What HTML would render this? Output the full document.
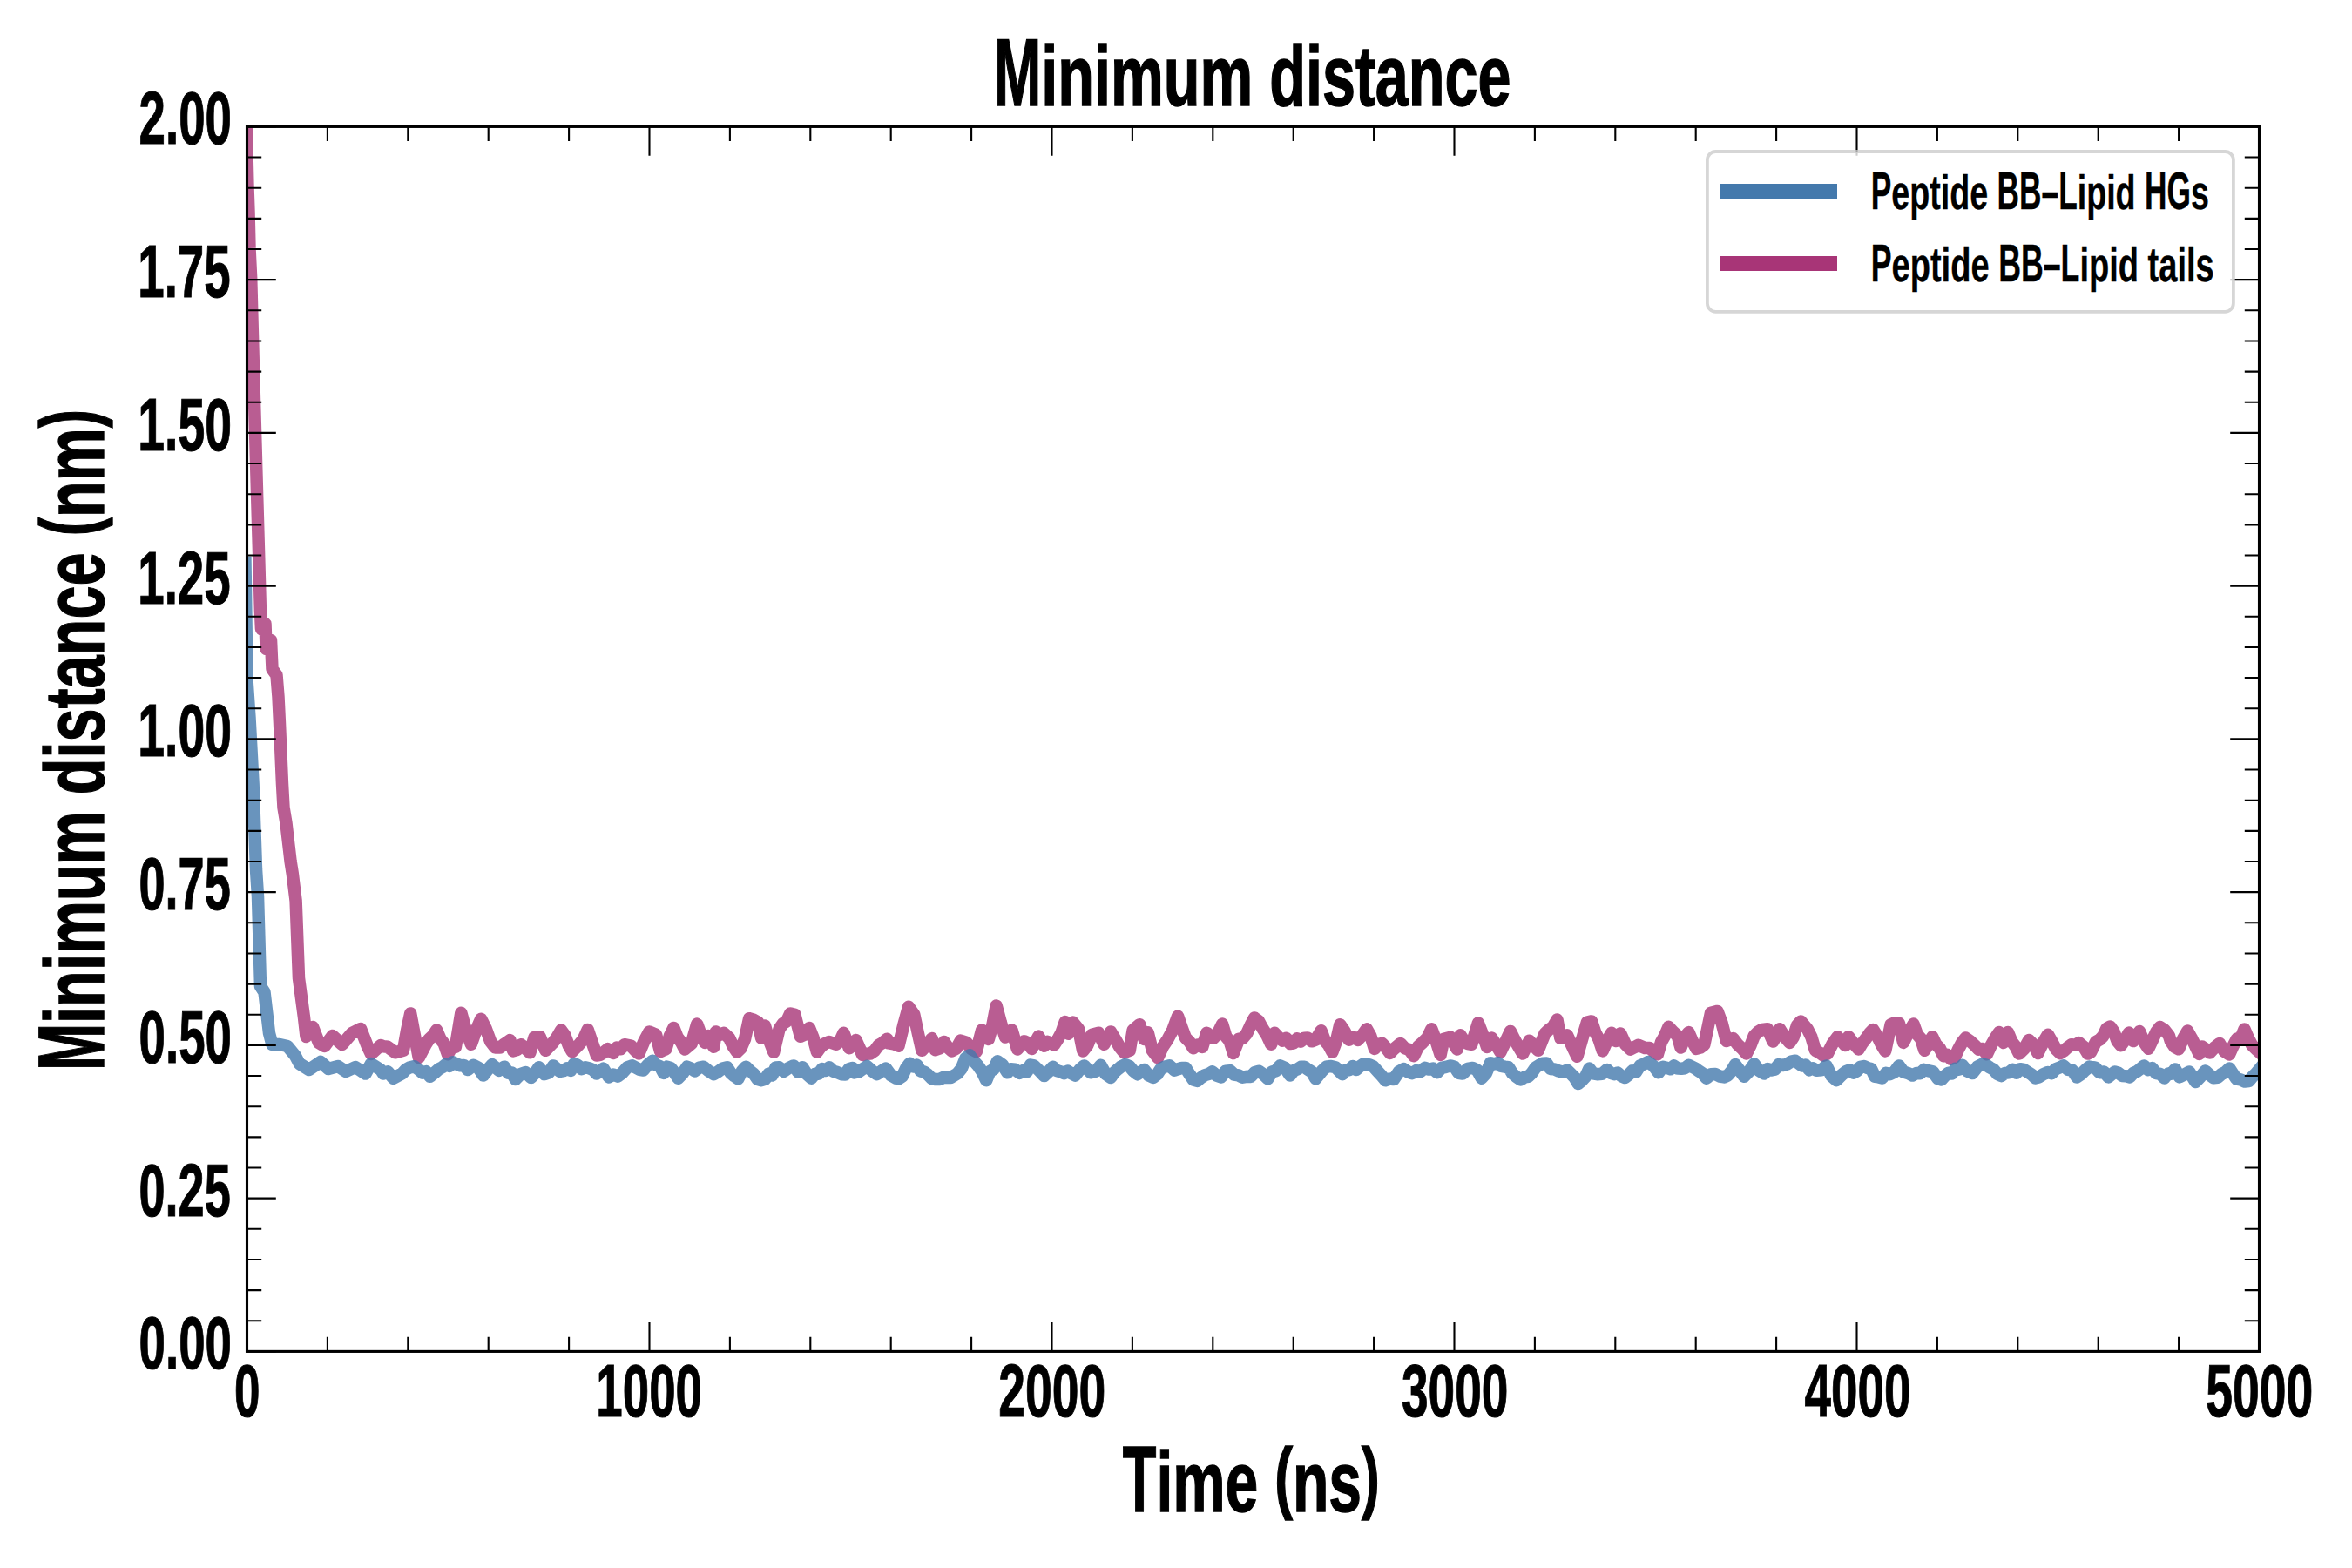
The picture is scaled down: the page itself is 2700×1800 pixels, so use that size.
<!DOCTYPE html>
<html><head><meta charset="utf-8"><style>
html,body{margin:0;padding:0;background:#fff;}
svg{display:block;}
text{font-family:"Liberation Sans",sans-serif;font-weight:bold;fill:#000;}
</style></head><body>
<svg width="2700" height="1800" viewBox="0 0 2700 1800">
<rect x="0" y="0" width="2700" height="1800" fill="#fff"/>
<defs><clipPath id="ax"><rect x="283.5" y="145.4" width="2310.0" height="1406.0"/></clipPath></defs>

<g clip-path="url(#ax)" fill="none" stroke-width="14.5" stroke-linejoin="round" stroke-linecap="square">
<polyline points="282.8,146.0 284.5,215.0 285.5,243.0 286.5,285.0 288.2,320.0 291.4,438.0 295.2,571.0 297.2,640.0 298.9,700.0 300.0,722.0 304.5,716.0 305.5,745.0 311.0,735.0 312.5,768.0 317.5,775.0 319.5,800.0 321.0,831.0 324.0,900.0 325.5,927.0 328.5,945.0 333.6,989.0 335.8,1003.0 339.6,1034.0 343.0,1123.0 349.0,1168.0 351.5,1190.0 359.0,1179.0 366.0,1197.0 372.7,1201.0 381.6,1189.0 392.8,1199.0 404.0,1186.0 414.0,1181.0 421.8,1201.0 426.0,1210.0 437.0,1200.0 440.0,1201.2 445.1,1201.8 454.0,1208.3 463.0,1205.8 467.1,1182.8 471.2,1163.4 476.0,1189.1 480.8,1214.1 488.5,1199.3 492.7,1192.8 497.0,1188.9 501.2,1182.6 505.5,1192.7 509.7,1198.0 514.0,1210.3 518.4,1202.6 522.9,1201.8 529.3,1162.8 535.0,1183.2 540.8,1198.8 546.5,1182.6 552.2,1169.8 557.7,1180.8 563.1,1195.6 568.5,1202.6 573.9,1202.6 579.7,1198.1 585.4,1194.1 589.2,1206.4 593.7,1205.1 598.2,1199.2 603.3,1203.6 608.4,1208.3 613.5,1190.9 619.8,1190.2 626.2,1205.8 633.9,1198.0 639.0,1191.3 644.1,1182.6 648.3,1188.3 652.6,1199.8 656.8,1207.1 664.5,1199.3 669.6,1193.2 674.7,1181.9 679.8,1196.9 684.9,1211.5 689.1,1210.8 693.4,1207.9 697.7,1204.3 704.0,1209.0 708.3,1202.7 712.5,1204.2 716.8,1199.2 724.4,1200.6 728.9,1205.7 733.4,1209.6 739.3,1195.7 745.3,1184.5 753.0,1187.7 758.1,1207.1 764.4,1204.4 768.9,1188.9 773.4,1180.0 777.6,1190.7 781.9,1196.2 786.1,1204.5 793.8,1198.0 800.2,1175.6 804.6,1187.7 809.1,1196.9 812.9,1189.1 819.3,1201.8 821.8,1184.5 826.3,1187.8 830.8,1185.8 837.1,1191.6 841.6,1201.2 846.1,1207.7 850.5,1203.3 855.0,1192.9 860.1,1169.2 865.2,1170.7 870.3,1173.6 874.1,1191.8 878.0,1177.5 883.1,1194.7 888.2,1207.7 894.5,1181.4 898.8,1175.0 903.0,1172.5 907.3,1163.4 912.4,1164.8 918.8,1189.8 923.9,1187.6 929.0,1180.0 933.4,1191.0 937.9,1207.7 942.6,1201.2 947.3,1197.9 951.9,1196.0 959.6,1198.8 964.1,1195.5 968.5,1185.8 974.9,1203.2 982.6,1194.1 990.2,1210.9 994.7,1209.7 999.1,1209.5 1003.9,1206.2 1008.7,1199.7 1013.5,1197.0 1018.3,1192.8 1020.0,1197.4 1025.7,1198.2 1031.5,1200.7 1037.2,1177.2 1043.0,1155.8 1049.3,1164.7 1053.8,1185.9 1058.3,1205.8 1064.0,1199.6 1069.7,1192.1 1073.6,1205.2 1078.7,1203.4 1083.8,1196.0 1088.2,1202.5 1092.7,1206.4 1097.8,1203.6 1102.9,1194.7 1109.3,1196.6 1115.0,1204.3 1120.8,1207.1 1127.1,1182.6 1134.8,1193.0 1139.3,1177.2 1143.7,1154.5 1148.8,1173.7 1153.9,1190.5 1161.6,1182.6 1168.0,1204.5 1175.6,1195.3 1180.1,1197.2 1184.5,1203.9 1192.2,1189.6 1198.6,1200.7 1202.4,1196.0 1210.1,1199.4 1214.3,1193.1 1218.6,1185.1 1222.8,1173.0 1226.6,1186.7 1231.7,1173.6 1238.1,1181.4 1243.2,1206.4 1248.3,1199.9 1253.4,1187.7 1261.1,1185.8 1267.4,1198.8 1275.1,1184.5 1280.2,1192.9 1285.3,1201.9 1290.4,1208.3 1296.8,1205.8 1300.6,1182.6 1308.3,1176.2 1313.4,1192.9 1317.7,1185.3 1322.8,1205.8 1329.1,1214.1 1334.9,1201.5 1340.6,1192.9 1346.4,1182.1 1352.1,1166.6 1356.6,1179.6 1361.0,1191.6 1365.5,1195.9 1369.9,1203.2 1375.1,1199.5 1380.2,1202.0 1385.3,1185.8 1392.9,1191.8 1398.0,1186.1 1403.1,1175.6 1407.4,1190.1 1411.6,1195.0 1415.9,1209.0 1422.2,1192.9 1426.7,1191.8 1431.2,1186.5 1435.6,1176.9 1440.1,1168.5 1444.6,1171.8 1449.0,1180.0 1454.1,1188.0 1459.2,1198.8 1463.1,1185.8 1467.5,1190.7 1472.0,1194.5 1476.5,1191.8 1480.9,1198.0 1485.0,1197.5 1489.1,1192.3 1493.2,1195.7 1497.2,1191.7 1501.3,1191.6 1505.8,1195.3 1510.3,1193.7 1516.6,1183.2 1520.9,1194.7 1525.1,1199.6 1529.4,1207.7 1533.9,1195.4 1538.3,1176.2 1543.4,1183.6 1548.5,1193.7 1553.6,1190.7 1558.7,1193.7 1563.8,1188.2 1568.9,1181.3 1573.4,1189.3 1577.9,1203.9 1582.3,1198.8 1586.8,1198.0 1591.2,1202.9 1595.7,1209.0 1600.0,1204.4 1607.7,1197.9 1612.8,1203.4 1617.9,1205.0 1623.0,1212.2 1628.1,1201.2 1633.2,1196.7 1638.3,1191.6 1643.4,1181.3 1648.5,1194.8 1653.6,1210.9 1657.4,1192.8 1665.1,1190.9 1672.7,1204.5 1676.5,1188.3 1680.8,1195.0 1685.0,1198.1 1689.3,1198.8 1696.9,1174.3 1702.0,1187.3 1707.1,1202.0 1712.2,1191.5 1717.3,1199.3 1722.4,1207.7 1728.2,1195.9 1733.9,1183.9 1738.6,1193.4 1743.3,1201.7 1748.0,1209.6 1755.6,1194.7 1760.7,1200.7 1765.8,1205.8 1773.5,1186.5 1778.1,1182.0 1782.8,1178.9 1787.5,1170.5 1791.3,1191.8 1799.0,1188.3 1804.7,1200.6 1810.5,1212.8 1816.2,1192.7 1821.9,1173.6 1827.0,1172.4 1831.3,1185.3 1835.5,1193.2 1839.8,1206.4 1844.9,1194.7 1850.0,1185.8 1855.1,1194.9 1860.2,1186.4 1865.9,1198.8 1871.7,1204.5 1876.1,1202.3 1880.6,1199.8 1888.3,1203.0 1893.8,1203.0 1898.3,1207.0 1902.8,1210.3 1907.0,1196.3 1911.3,1188.7 1915.5,1178.8 1920.6,1184.4 1925.7,1189.0 1929.5,1202.6 1934.0,1190.5 1938.5,1185.1 1942.9,1195.3 1947.4,1203.9 1951.9,1202.6 1956.3,1199.4 1964.0,1162.8 1971.6,1160.9 1976.7,1174.8 1981.8,1194.9 1989.5,1192.1 1994.6,1198.9 1999.7,1203.6 2004.8,1209.6 2009.3,1200.6 2013.7,1189.1 2018.2,1184.5 2022.7,1181.9 2029.0,1181.3 2035.4,1195.6 2043.1,1181.3 2048.8,1190.5 2054.5,1196.9 2058.8,1190.4 2063.0,1177.2 2067.3,1172.4 2074.9,1181.4 2079.4,1190.5 2083.9,1205.8 2088.6,1208.3 2093.2,1211.6 2097.9,1209.6 2103.6,1198.2 2109.4,1190.2 2113.9,1194.8 2118.3,1200.1 2122.1,1190.2 2127.9,1198.0 2133.6,1204.5 2137.8,1197.6 2141.9,1192.3 2146.1,1186.3 2150.2,1181.9 2154.9,1189.2 2159.6,1198.9 2164.2,1206.4 2170.6,1176.2 2175.3,1174.2 2180.0,1174.9 2185.1,1196.9 2190.8,1185.4 2196.6,1175.6 2200.8,1187.5 2205.1,1192.4 2209.3,1205.8 2213.8,1198.5 2218.3,1190.2 2222.5,1199.2 2226.8,1203.5 2231.0,1212.2 2235.3,1210.9 2239.5,1215.6 2243.8,1214.1 2248.0,1204.7 2252.3,1196.8 2256.5,1191.5 2261.6,1195.2 2266.7,1199.8 2271.4,1204.7 2276.1,1204.0 2280.8,1210.3 2285.4,1200.6 2290.1,1192.3 2294.8,1185.1 2299.9,1196.9 2305.0,1185.1 2309.3,1195.6 2313.5,1201.0 2317.8,1209.6 2323.5,1204.3 2329.2,1194.1 2334.3,1199.2 2339.4,1209.0 2345.2,1197.2 2350.9,1187.7 2355.6,1195.8 2360.3,1204.6 2364.9,1209.0 2369.3,1206.3 2373.6,1202.4 2378.0,1199.3 2382.3,1199.8 2386.6,1197.2 2391.7,1201.3 2396.8,1209.6 2400.0,1207.9 2406.1,1195.8 2410.2,1193.6 2414.3,1189.5 2418.4,1180.6 2422.4,1178.5 2426.5,1184.2 2430.6,1195.1 2434.7,1200.2 2439.3,1193.9 2443.9,1185.6 2449.0,1195.1 2456.1,1184.1 2461.2,1196.1 2466.3,1203.8 2470.7,1194.4 2475.2,1184.7 2479.6,1179.0 2484.7,1182.4 2489.8,1188.7 2491.8,1195.1 2496.4,1201.8 2501.0,1204.3 2506.1,1192.3 2511.2,1183.6 2515.6,1191.3 2520.1,1200.5 2524.5,1209.9 2527.6,1201.4 2532.1,1204.3 2536.7,1208.4 2542.3,1202.5 2548.0,1197.9 2553.6,1207.1 2559.2,1210.4 2563.5,1200.8 2567.9,1192.5 2572.2,1191.9 2576.5,1181.5 2581.0,1191.8 2585.4,1200.1 2589.8,1204.3 2593.9,1208.0" stroke="#A83577" stroke-opacity="0.8"/>
<polyline points="281.5,646.0 283.5,780.0 286.5,824.0 290.6,900.0 294.0,998.0 296.0,1029.0 299.0,1132.0 303.5,1139.0 309.0,1186.0 312.4,1199.0 321.0,1199.0 330.0,1201.0 339.0,1212.0 343.7,1221.0 354.8,1228.0 368.0,1219.0 377.0,1227.0 388.0,1224.0 397.0,1230.0 408.0,1225.0 419.6,1232.6 426.0,1221.0 437.0,1228.0 440.0,1232.4 445.1,1230.4 451.5,1237.7 461.7,1232.4 466.1,1227.6 470.6,1225.3 475.7,1224.2 480.8,1228.0 485.1,1231.6 489.3,1230.2 493.6,1235.8 498.7,1231.7 503.8,1227.2 507.9,1225.1 511.9,1221.8 516.0,1223.8 520.1,1219.4 524.2,1221.5 528.4,1223.2 532.7,1222.9 536.9,1228.1 543.3,1222.8 549.1,1225.8 554.8,1234.5 559.9,1227.8 565.0,1222.1 572.7,1228.8 579.0,1224.7 583.3,1231.7 587.5,1231.6 591.8,1239.0 597.5,1233.1 603.3,1231.0 609.6,1237.0 614.1,1232.1 618.6,1225.3 624.9,1233.2 630.1,1231.4 635.2,1223.4 642.8,1230.0 646.9,1229.1 651.0,1226.4 655.1,1229.0 659.1,1221.0 663.2,1222.8 667.6,1227.2 671.9,1225.2 676.2,1226.2 680.6,1227.9 684.9,1232.6 692.6,1226.6 698.9,1236.4 704.0,1233.6 709.1,1235.6 714.2,1231.9 720.0,1225.4 725.7,1223.4 730.0,1225.7 734.2,1227.9 738.5,1228.6 743.8,1222.2 749.1,1217.7 753.4,1222.7 757.6,1224.1 761.9,1231.9 765.7,1224.7 770.0,1225.9 774.2,1231.3 778.5,1237.7 783.6,1232.4 788.7,1224.7 793.1,1226.5 797.6,1229.4 802.7,1225.7 807.8,1224.7 813.5,1229.5 819.3,1233.2 824.4,1230.3 829.5,1226.5 834.6,1225.3 838.8,1231.7 843.1,1235.4 847.3,1238.3 851.8,1229.7 856.3,1224.7 860.7,1229.1 865.2,1232.6 869.7,1239.0 874.1,1240.2 878.2,1238.9 882.3,1232.8 886.4,1234.6 890.5,1225.6 894.5,1225.3 899.6,1230.0 905.4,1226.1 911.1,1223.4 916.2,1230.7 921.3,1225.3 926.4,1233.3 931.5,1237.7 935.6,1232.8 939.7,1232.7 943.8,1227.0 947.9,1229.0 951.9,1225.3 956.6,1229.8 961.3,1231.1 966.0,1233.2 970.2,1233.4 974.5,1227.1 978.7,1225.9 981.3,1231.3 986.0,1230.2 990.6,1227.1 995.3,1224.0 1001.0,1229.2 1006.8,1233.2 1011.9,1229.6 1017.0,1226.6 1022.7,1234.4 1028.5,1237.6 1031.5,1238.3 1035.7,1235.6 1040.0,1226.5 1044.2,1220.8 1048.4,1224.4 1052.5,1222.6 1056.7,1229.5 1060.8,1230.5 1065.3,1233.7 1069.7,1238.2 1074.2,1239.1 1078.7,1239.0 1082.9,1236.8 1087.2,1236.9 1091.4,1237.0 1099.1,1232.4 1103.8,1226.6 1108.4,1215.0 1113.1,1211.3 1117.9,1218.2 1122.7,1223.4 1127.5,1230.3 1132.2,1240.2 1136.5,1229.8 1140.7,1227.5 1145.0,1218.3 1150.7,1222.2 1156.5,1231.3 1160.3,1227.2 1165.4,1227.8 1170.5,1231.9 1174.7,1229.0 1178.8,1230.3 1182.9,1222.6 1187.1,1223.4 1192.8,1228.9 1198.6,1235.1 1203.7,1230.2 1208.8,1224.7 1213.0,1229.0 1217.3,1230.2 1221.5,1232.1 1225.8,1229.7 1230.0,1232.3 1234.3,1234.5 1239.4,1228.0 1244.5,1223.4 1252.1,1231.3 1257.9,1229.7 1263.6,1222.8 1269.4,1233.1 1275.1,1237.0 1279.2,1230.9 1283.4,1227.3 1287.5,1224.0 1291.7,1222.1 1296.4,1223.9 1301.0,1229.4 1305.7,1233.2 1313.4,1227.9 1318.5,1234.4 1324.0,1237.0 1328.3,1233.5 1332.5,1227.1 1336.8,1224.7 1342.5,1223.2 1348.3,1228.6 1352.5,1227.2 1356.8,1225.9 1361.0,1225.9 1365.5,1233.2 1369.9,1239.6 1374.3,1240.9 1378.6,1237.3 1383.0,1234.2 1387.3,1233.1 1391.6,1230.4 1396.7,1234.6 1401.8,1236.4 1406.9,1229.6 1412.0,1229.1 1416.8,1233.6 1421.6,1234.4 1426.4,1236.7 1431.2,1235.8 1435.9,1235.9 1440.5,1231.0 1445.2,1229.8 1450.3,1233.3 1455.4,1238.3 1460.1,1230.6 1464.8,1229.3 1469.4,1223.4 1475.2,1225.9 1480.9,1234.5 1485.1,1229.0 1489.2,1227.5 1493.4,1224.8 1497.5,1224.7 1501.8,1228.1 1506.0,1230.6 1510.3,1238.3 1517.9,1229.1 1523.0,1224.4 1528.1,1224.1 1533.2,1225.3 1540.9,1233.2 1544.9,1228.5 1548.9,1228.3 1553.0,1224.0 1557.0,1228.0 1561.1,1224.2 1565.1,1221.5 1571.5,1222.1 1576.3,1224.2 1581.0,1229.4 1585.8,1234.6 1590.6,1240.2 1595.1,1238.6 1599.5,1239.0 1600.0,1239.0 1605.7,1230.4 1611.5,1227.2 1616.3,1230.4 1621.0,1232.1 1625.8,1229.1 1630.6,1230.0 1635.7,1225.9 1640.4,1227.6 1645.1,1226.6 1649.7,1231.3 1654.8,1225.9 1659.9,1224.9 1665.1,1223.4 1669.7,1224.8 1674.4,1231.8 1679.1,1232.6 1684.8,1226.9 1690.6,1225.9 1695.7,1228.5 1700.8,1237.7 1705.9,1232.1 1711.0,1220.2 1715.1,1221.5 1719.3,1220.0 1723.4,1223.9 1727.6,1224.7 1731.8,1225.1 1736.1,1232.3 1740.3,1235.8 1745.4,1239.4 1750.5,1236.4 1754.6,1235.8 1758.7,1231.6 1762.8,1225.4 1766.8,1223.0 1770.9,1220.8 1775.4,1220.6 1779.8,1227.0 1784.3,1227.4 1788.8,1229.3 1793.9,1230.8 1799.0,1228.5 1803.2,1232.5 1807.5,1236.9 1811.7,1244.1 1816.0,1240.4 1820.2,1235.8 1824.5,1226.6 1829.0,1232.4 1833.4,1233.2 1839.2,1232.7 1844.9,1227.9 1849.0,1231.9 1853.1,1233.2 1857.1,1231.5 1861.2,1235.3 1865.3,1237.0 1869.6,1233.9 1873.8,1229.4 1878.1,1230.5 1882.7,1223.4 1887.4,1221.3 1892.1,1218.9 1892.6,1219.7 1898.3,1223.8 1904.0,1231.3 1909.1,1224.7 1913.3,1225.7 1917.5,1227.3 1921.7,1223.5 1925.9,1226.6 1930.1,1226.7 1934.3,1226.2 1938.5,1222.8 1942.6,1224.8 1946.6,1226.8 1950.7,1229.8 1954.8,1232.6 1958.9,1237.7 1964.0,1233.2 1969.1,1233.0 1974.2,1235.5 1979.3,1236.4 1983.5,1234.4 1987.8,1229.3 1992.0,1222.1 1997.1,1228.8 2002.2,1235.8 2008.0,1229.7 2013.7,1221.5 2019.5,1229.1 2025.2,1232.6 2029.3,1227.1 2033.5,1228.5 2037.6,1227.6 2041.8,1222.1 2046.6,1223.0 2051.4,1221.6 2056.1,1218.6 2060.9,1217.7 2068.6,1223.5 2072.7,1222.6 2076.9,1228.2 2081.0,1226.3 2085.2,1228.8 2090.9,1228.2 2096.6,1223.4 2102.4,1235.1 2108.1,1240.2 2113.9,1234.3 2119.6,1229.8 2123.6,1228.4 2127.7,1231.6 2131.7,1229.4 2135.7,1224.9 2139.8,1224.0 2143.8,1225.9 2148.1,1227.0 2152.3,1235.8 2156.6,1236.4 2160.8,1237.5 2165.1,1231.8 2169.3,1233.2 2174.7,1230.6 2180.0,1223.4 2185.1,1230.5 2190.2,1231.9 2195.3,1234.5 2199.8,1232.1 2204.2,1232.2 2208.7,1227.9 2213.2,1229.1 2218.9,1230.3 2224.6,1238.3 2228.7,1239.4 2232.7,1234.9 2236.7,1231.8 2240.7,1232.5 2244.7,1226.7 2248.7,1227.6 2252.7,1222.8 2258.4,1229.6 2264.2,1231.9 2269.9,1224.7 2275.7,1221.5 2280.0,1222.5 2284.3,1225.5 2288.7,1227.9 2293.0,1233.0 2297.3,1235.1 2301.7,1231.9 2306.0,1231.4 2310.4,1227.8 2314.7,1231.7 2319.0,1227.2 2323.4,1228.0 2327.7,1230.6 2332.0,1233.3 2336.4,1237.4 2340.7,1236.4 2345.8,1233.2 2350.9,1231.0 2355.4,1232.1 2359.8,1227.2 2364.3,1225.5 2368.8,1223.4 2373.9,1227.9 2379.0,1228.7 2384.1,1236.4 2388.9,1233.2 2393.6,1228.6 2398.4,1224.6 2403.2,1225.3 2405.1,1225.4 2410.2,1231.2 2415.3,1230.5 2420.4,1236.4 2427.6,1230.5 2431.9,1231.8 2436.2,1235.0 2440.6,1235.3 2444.9,1236.4 2449.0,1231.9 2453.1,1230.0 2457.1,1227.0 2461.2,1223.4 2465.9,1228.2 2470.6,1226.2 2475.3,1232.2 2480.0,1232.9 2484.7,1237.4 2488.8,1232.6 2492.9,1232.7 2496.9,1227.4 2502.0,1236.4 2507.7,1233.5 2513.3,1230.5 2520.4,1242.0 2526.0,1236.2 2531.6,1229.5 2536.4,1233.8 2541.2,1237.3 2545.9,1236.9 2550.3,1233.0 2554.8,1230.7 2559.2,1226.4 2563.3,1232.5 2567.3,1238.5 2572.1,1239.4 2576.9,1241.5 2581.6,1241.0 2585.7,1236.1 2589.8,1232.1 2593.9,1227.3" stroke="#4479AC" stroke-opacity="0.8"/>
</g>
<path d="M283.50,1551.4V1518.10M283.50,145.4V178.70M375.90,1551.4V1534.70M375.90,145.4V162.10M468.30,1551.4V1534.70M468.30,145.4V162.10M560.70,1551.4V1534.70M560.70,145.4V162.10M653.10,1551.4V1534.70M653.10,145.4V162.10M745.50,1551.4V1518.10M745.50,145.4V178.70M837.90,1551.4V1534.70M837.90,145.4V162.10M930.30,1551.4V1534.70M930.30,145.4V162.10M1022.70,1551.4V1534.70M1022.70,145.4V162.10M1115.10,1551.4V1534.70M1115.10,145.4V162.10M1207.50,1551.4V1518.10M1207.50,145.4V178.70M1299.90,1551.4V1534.70M1299.90,145.4V162.10M1392.30,1551.4V1534.70M1392.30,145.4V162.10M1484.70,1551.4V1534.70M1484.70,145.4V162.10M1577.10,1551.4V1534.70M1577.10,145.4V162.10M1669.50,1551.4V1518.10M1669.50,145.4V178.70M1761.90,1551.4V1534.70M1761.90,145.4V162.10M1854.30,1551.4V1534.70M1854.30,145.4V162.10M1946.70,1551.4V1534.70M1946.70,145.4V162.10M2039.10,1551.4V1534.70M2039.10,145.4V162.10M2131.50,1551.4V1518.10M2131.50,145.4V178.70M2223.90,1551.4V1534.70M2223.90,145.4V162.10M2316.30,1551.4V1534.70M2316.30,145.4V162.10M2408.70,1551.4V1534.70M2408.70,145.4V162.10M2501.10,1551.4V1534.70M2501.10,145.4V162.10M2593.50,1551.4V1518.10M2593.50,145.4V178.70M283.5,1551.40H316.80M2593.5,1551.40H2560.20M283.5,1516.25H300.20M2593.5,1516.25H2576.80M283.5,1481.10H300.20M2593.5,1481.10H2576.80M283.5,1445.95H300.20M2593.5,1445.95H2576.80M283.5,1410.80H300.20M2593.5,1410.80H2576.80M283.5,1375.65H316.80M2593.5,1375.65H2560.20M283.5,1340.50H300.20M2593.5,1340.50H2576.80M283.5,1305.35H300.20M2593.5,1305.35H2576.80M283.5,1270.20H300.20M2593.5,1270.20H2576.80M283.5,1235.05H300.20M2593.5,1235.05H2576.80M283.5,1199.90H316.80M2593.5,1199.90H2560.20M283.5,1164.75H300.20M2593.5,1164.75H2576.80M283.5,1129.60H300.20M2593.5,1129.60H2576.80M283.5,1094.45H300.20M2593.5,1094.45H2576.80M283.5,1059.30H300.20M2593.5,1059.30H2576.80M283.5,1024.15H316.80M2593.5,1024.15H2560.20M283.5,989.00H300.20M2593.5,989.00H2576.80M283.5,953.85H300.20M2593.5,953.85H2576.80M283.5,918.70H300.20M2593.5,918.70H2576.80M283.5,883.55H300.20M2593.5,883.55H2576.80M283.5,848.40H316.80M2593.5,848.40H2560.20M283.5,813.25H300.20M2593.5,813.25H2576.80M283.5,778.10H300.20M2593.5,778.10H2576.80M283.5,742.95H300.20M2593.5,742.95H2576.80M283.5,707.80H300.20M2593.5,707.80H2576.80M283.5,672.65H316.80M2593.5,672.65H2560.20M283.5,637.50H300.20M2593.5,637.50H2576.80M283.5,602.35H300.20M2593.5,602.35H2576.80M283.5,567.20H300.20M2593.5,567.20H2576.80M283.5,532.05H300.20M2593.5,532.05H2576.80M283.5,496.90H316.80M2593.5,496.90H2560.20M283.5,461.75H300.20M2593.5,461.75H2576.80M283.5,426.60H300.20M2593.5,426.60H2576.80M283.5,391.45H300.20M2593.5,391.45H2576.80M283.5,356.30H300.20M2593.5,356.30H2576.80M283.5,321.15H316.80M2593.5,321.15H2560.20M283.5,286.00H300.20M2593.5,286.00H2576.80M283.5,250.85H300.20M2593.5,250.85H2576.80M283.5,215.70H300.20M2593.5,215.70H2576.80M283.5,180.55H300.20M2593.5,180.55H2576.80M283.5,145.40H316.80M2593.5,145.40H2560.20" stroke="#000" stroke-width="2.1" fill="none"/>
<rect x="283.5" y="145.4" width="2310.0" height="1406.0" fill="none" stroke="#000" stroke-width="3.1" stroke-linejoin="miter"/>
<g>
<text transform="translate(159.49,1571.35) scale(0.6375,1)" font-size="85.86" stroke="#000" stroke-width="0.9" vector-effect="non-scaling-stroke" stroke-linejoin="miter">0.00</text>
<text transform="translate(159.51,1395.60) scale(0.6296,1)" font-size="85.86" stroke="#000" stroke-width="0.9" vector-effect="non-scaling-stroke" stroke-linejoin="miter">0.25</text>
<text transform="translate(159.49,1219.85) scale(0.6375,1)" font-size="85.86" stroke="#000" stroke-width="0.9" vector-effect="non-scaling-stroke" stroke-linejoin="miter">0.50</text>
<text transform="translate(159.51,1044.10) scale(0.6296,1)" font-size="85.86" stroke="#000" stroke-width="0.9" vector-effect="non-scaling-stroke" stroke-linejoin="miter">0.75</text>
<text transform="translate(158.17,868.35) scale(0.6456,1)" font-size="85.86" stroke="#000" stroke-width="0.9" vector-effect="non-scaling-stroke" stroke-linejoin="miter">1.00</text>
<text transform="translate(158.21,692.60) scale(0.6375,1)" font-size="85.86" stroke="#000" stroke-width="0.9" vector-effect="non-scaling-stroke" stroke-linejoin="miter">1.25</text>
<text transform="translate(158.17,516.85) scale(0.6456,1)" font-size="85.86" stroke="#000" stroke-width="0.9" vector-effect="non-scaling-stroke" stroke-linejoin="miter">1.50</text>
<text transform="translate(158.21,341.10) scale(0.6375,1)" font-size="85.86" stroke="#000" stroke-width="0.9" vector-effect="non-scaling-stroke" stroke-linejoin="miter">1.75</text>
<text transform="translate(159.49,165.35) scale(0.6375,1)" font-size="85.86" stroke="#000" stroke-width="0.9" vector-effect="non-scaling-stroke" stroke-linejoin="miter">2.00</text>
<text transform="translate(269.00,1626.40) scale(0.6171,1)" font-size="85.86" stroke="#000" stroke-width="0.9" vector-effect="non-scaling-stroke" stroke-linejoin="miter">0</text>
<text transform="translate(684.31,1626.40) scale(0.6374,1)" font-size="85.86" stroke="#000" stroke-width="0.9" vector-effect="non-scaling-stroke" stroke-linejoin="miter">1000</text>
<text transform="translate(1146.27,1626.40) scale(0.6446,1)" font-size="85.86" stroke="#000" stroke-width="0.9" vector-effect="non-scaling-stroke" stroke-linejoin="miter">2000</text>
<text transform="translate(1608.92,1626.40) scale(0.6411,1)" font-size="85.86" stroke="#000" stroke-width="0.9" vector-effect="non-scaling-stroke" stroke-linejoin="miter">3000</text>
<text transform="translate(2071.56,1626.40) scale(0.6376,1)" font-size="85.86" stroke="#000" stroke-width="0.9" vector-effect="non-scaling-stroke" stroke-linejoin="miter">4000</text>
<text transform="translate(2532.27,1626.40) scale(0.6446,1)" font-size="85.86" stroke="#000" stroke-width="0.9" vector-effect="non-scaling-stroke" stroke-linejoin="miter">5000</text>
</g>
<rect x="1959.9" y="174.0" width="604.0" height="183.8" rx="9.6" ry="9.6" fill="#fff" fill-opacity="0.8" stroke="#cccccc" stroke-opacity="0.8" stroke-width="3.8"/>
<rect x="1975" y="211.0" width="134" height="17.0" fill="#4479AC"/>
<rect x="1975" y="294.0" width="134" height="17.0" fill="#A83577"/>
<g transform="translate(1141.01,120.50) scale(0.6990,1)" stroke="#000" stroke-width="1.3"><text transform="translate(0.00,0.00) scale(0.8500,1)" font-size="109.61" vector-effect="non-scaling-stroke">M</text><text transform="translate(77.61,0.00) scale(1.0000,1)" font-size="97.77" vector-effect="non-scaling-stroke">inimum distance</text></g>
<g transform="translate(1288.81,1734.90) scale(0.6914,1)" stroke="#000" stroke-width="1.2"><text transform="translate(0.00,0.00) scale(0.8500,1)" font-size="107.57" vector-effect="non-scaling-stroke">T</text><text transform="translate(55.85,0.00) scale(1.0000,1)" font-size="98.14" vector-effect="non-scaling-stroke">ime </text><text transform="translate(252.23,-8.72) scale(1.0000,1)" font-size="90.02" vector-effect="non-scaling-stroke">(</text><text transform="translate(282.21,0.00) scale(1.0000,1)" font-size="98.14" vector-effect="non-scaling-stroke">ns</text><text transform="translate(396.74,-8.72) scale(1.0000,1)" font-size="90.02" vector-effect="non-scaling-stroke">)</text></g>
<g transform="translate(119.00,1224.80) rotate(-90) translate(-4.25,0) scale(0.7089,1)" stroke="#000" stroke-width="1.2"><text transform="translate(0.00,0.00) scale(0.8500,1)" font-size="107.71" vector-effect="non-scaling-stroke">M</text><text transform="translate(76.27,0.00) scale(1.0000,1)" font-size="96.65" vector-effect="non-scaling-stroke">inimum distance </text><text transform="translate(865.79,-8.82) scale(1.0000,1)" font-size="90.02" vector-effect="non-scaling-stroke">(</text><text transform="translate(895.76,0.00) scale(1.0000,1)" font-size="96.65" vector-effect="non-scaling-stroke">nm</text><text transform="translate(1040.75,-8.82) scale(1.0000,1)" font-size="90.02" vector-effect="non-scaling-stroke">)</text></g>
<g transform="translate(2147.76,239.90) scale(0.6793,1)" stroke="#000" stroke-width="0.3"><text transform="translate(0.00,0.00) scale(0.8500,1)" font-size="61.14" vector-effect="non-scaling-stroke">P</text><text transform="translate(34.66,0.00) scale(1.0000,1)" font-size="55.39" vector-effect="non-scaling-stroke">eptide </text><text transform="translate(213.17,0.00) scale(0.8500,1)" font-size="61.14" vector-effect="non-scaling-stroke">BB–L</text><text transform="translate(348.86,0.00) scale(1.0000,1)" font-size="55.39" vector-effect="non-scaling-stroke">ipid </text><text transform="translate(462.70,0.00) scale(0.8500,1)" font-size="61.14" vector-effect="non-scaling-stroke">HG</text><text transform="translate(540.65,0.00) scale(1.0000,1)" font-size="55.39" vector-effect="non-scaling-stroke">s</text></g>
<g transform="translate(2147.74,323.00) scale(0.6870,1)" stroke="#000" stroke-width="0.3"><text transform="translate(0.00,0.00) scale(0.8500,1)" font-size="61.14" vector-effect="non-scaling-stroke">P</text><text transform="translate(34.66,0.00) scale(1.0000,1)" font-size="55.39" vector-effect="non-scaling-stroke">eptide </text><text transform="translate(213.17,0.00) scale(0.8500,1)" font-size="61.14" vector-effect="non-scaling-stroke">BB–L</text><text transform="translate(348.86,0.00) scale(1.0000,1)" font-size="55.39" vector-effect="non-scaling-stroke">ipid tails</text></g>
</svg></body></html>
